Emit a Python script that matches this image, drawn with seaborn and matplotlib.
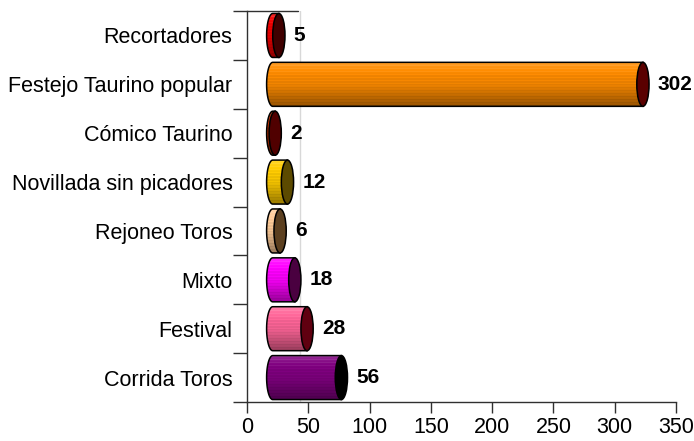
import numpy as np
import pandas as pd
import matplotlib
matplotlib.use("Agg")
import matplotlib.pyplot as plt
from matplotlib.path import Path
from matplotlib.patches import PathPatch, Ellipse
from matplotlib.colors import to_rgb
import seaborn as sns

# datos
categorias = ["Recortadores", "Festejo Taurino popular", "Cómico Taurino",
              "Novillada sin picadores", "Rejoneo Toros", "Mixto",
              "Festival", "Corrida Toros"]
valores = [5, 302, 2, 12, 6, 18, 28, 56]

# colores: cuerpo del cilindro y tapa
col_cuerpo = ["#F00000", "#FF8C00", "#C83200", "#FFCC00",
              "#FFCC99", "#FF00FF", "#FF6699", "#800080"]
col_tapa = ["#400000", "#5A0000", "#500000", "#5C4A00",
            "#5C4020", "#4A0040", "#600010", "#000000"]

df = pd.DataFrame({"cat": categorias, "val": valores})

sns.set_style("white")
plt.rcParams["font.family"] = ["Liberation Sans", "DejaVu Sans"]
plt.rcParams["text.color"] = "black"
plt.rcParams["xtick.color"] = "black"
plt.rcParams["ytick.color"] = "black"

fig = plt.figure(figsize=(6.94, 4.41), dpi=100)
ax = fig.add_axes([0.3559, 0.0884, 0.6182, 0.8866])

sns.barplot(data=df, y="cat", x="val", hue="cat", palette=col_cuerpo,
            orient="h", width=0.9, legend=False, ax=ax)

x0 = 21    # desplazamiento 3D del cilindro
hw = 5     # medio ancho de la elipse


def degradado(color, n=60):
    base = np.array(to_rgb(color))
    t = np.linspace(0, 1, n)
    f = np.interp(t, [0, 0.12, 0.3, 0.5, 0.75, 1.0], [1.25, 1.12, 1.0, 0.95, 0.78, 0.6])
    raya = np.where((np.arange(n) // 2) % 2 == 0, 1.0, 0.94)
    f = f * raya
    filas = []
    for k in f:
        if k >= 1:
            c = base + (1 - base) * (k - 1)
        else:
            c = base * k
        filas.append(np.clip(c, 0, 1))
    return np.array(filas)[:, None, :]


for i, p in enumerate(ax.patches):
    p.set_visible(False)
    y = p.get_y()
    h = p.get_height()
    v = p.get_width()
    yc = y + h / 2
    t = np.linspace(0, np.pi, 40)
    pts = [(x0, y), (x0 + v, y), (x0 + v, y + h), (x0, y + h)]
    pts += [(x0 - hw * np.sin(a), yc + h / 2 * np.cos(a)) for a in t]
    path = Path(pts + [pts[0]], closed=True)
    borde = PathPatch(path, facecolor="none", edgecolor="black", lw=1.1, zorder=4)
    ax.add_patch(borde)
    img = ax.imshow(degradado(col_cuerpo[i]), extent=(x0 - hw, x0 + v, y + h, y),
                    aspect="auto", interpolation="nearest", zorder=3)
    img.set_clip_path(borde)
    ax.add_patch(Ellipse((x0 + v, yc), 2 * hw, h, facecolor=col_tapa[i],
                         edgecolor="black", lw=1.1, zorder=5))
    ax.text(x0 + v + hw + 7, yc, str(valores[i]), fontsize=15, fontweight="bold",
            va="center", ha="left", zorder=6, clip_on=False, color="black")

ax.set_xlim(0, 350)
ax.set_ylim(7.5, -0.5)

# pared del fondo
ax.plot([43, 43], [-0.5, 7.5], color="#D8D8D8", lw=1, zorder=1)
ax.plot([0, 42], [-0.5, -0.5], color="#303030", lw=1, zorder=2, clip_on=False)

ax.set_xticks(np.arange(0, 351, 50))
ax.set_yticks(np.arange(-0.5, 8, 1))
ax.set_yticklabels([])
ax.set_yticks(range(len(categorias)), minor=True)
ax.set_yticklabels(categorias, minor=True)
ax.tick_params(axis="y", which="major", length=10, width=1, color="#303030", direction="out", left=True)
ax.tick_params(axis="y", which="minor", length=0, pad=10.5, labelsize=15.5)
ax.tick_params(axis="x", length=8, width=1, color="#303030", direction="out", labelsize=15.5, pad=3, bottom=True)
ax.set_xlabel("")
ax.set_ylabel("")

for s in ["top", "right"]:
    ax.spines[s].set_visible(False)
for s in ["left", "bottom"]:
    ax.spines[s].set_color("#303030")
    ax.spines[s].set_linewidth(1)

fig.savefig("out.png", dpi=100)
